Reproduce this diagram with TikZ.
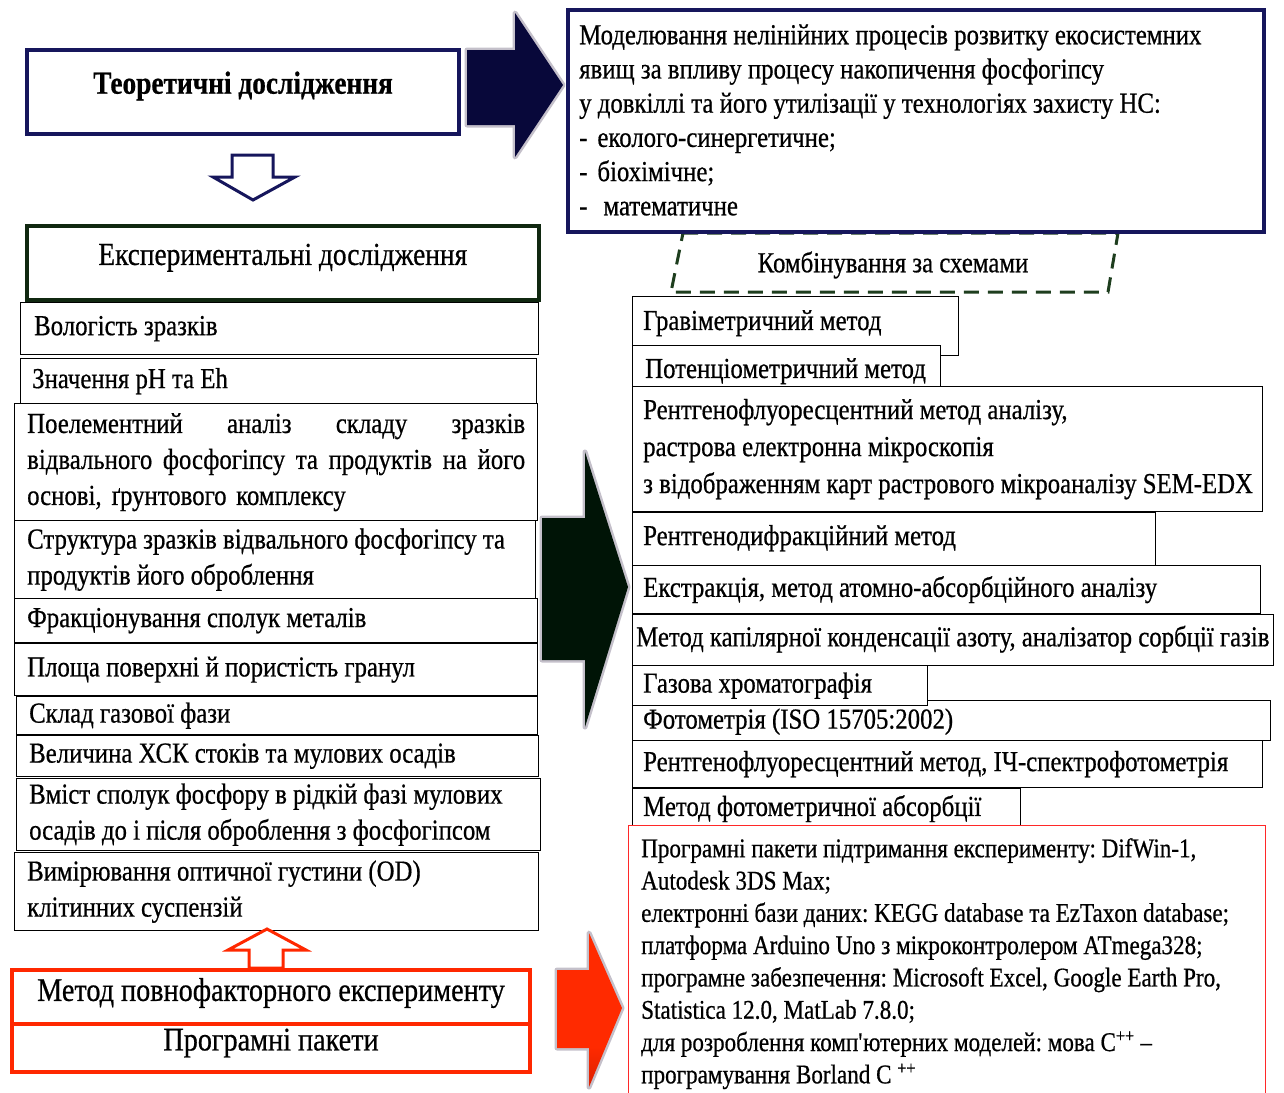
\documentclass[tikz,border=0pt]{standalone}
\usepackage{fontspec}
\setmainfont{Liberation Serif}[FakeStretch=0.855, FakeBold=0.6]
\usetikzlibrary{calc}
\definecolor{navy}{RGB}{22,22,92}
\definecolor{navyfill}{RGB}{8,8,58}
\definecolor{darkgreen}{RGB}{16,40,16}
\definecolor{dashgreen}{RGB}{30,62,30}
\definecolor{nearblack}{RGB}{0,20,6}
\definecolor{redline}{RGB}{255,40,0}
\definecolor{redthin}{RGB}{255,40,40}
\definecolor{redtop}{RGB}{255,42,0}
\definecolor{redbottom}{RGB}{150,10,0}
\definecolor{halo}{RGB}{60,45,80}
\pgfdeclareverticalshading{redarrowshade}{100bp}{color(0bp)=(redbottom); color(38bp)=(redtop); color(100bp)=(redtop)}
\newcommand\fsA{\fontsize{29}{36}\selectfont}
\newcommand\fsB{\fontsize{29}{37}\selectfont}
\newcommand\fsM{\fontsize{29}{34.2}\selectfont}
\newcommand\fsP{\fontsize{27}{32.3}\selectfont}
\newcommand\fsT{\fontsize{32}{38}\selectfont}
\begin{document}
\frenchspacing
\begin{tikzpicture}[x=1pt,y=-1pt,
  cell/.style={draw=black, line width=1.3pt, fill=white, anchor=north west, inner sep=0pt},
  lbl/.style={anchor=west, inner sep=0pt, align=left, font=\fsA},
  rlbl/.style={lbl, font=\fsB},
  redcell/.style={draw=redline, line width=4pt, fill=white, anchor=north west, inner sep=0pt},
  title/.style={inner sep=0pt, font=\fsT},
  glow/.style={draw=halo, line width=5pt, opacity=0.3, line join=round}
]
\useasboundingbox (0,0) rectangle (1284,1092);

% ---------- theory ----------
\node[draw=navy, line width=4pt, fill=white, anchor=north west, minimum width=432pt,
  minimum height=84pt] (teor) at (25,48) {};
\node[title, font=\fsT\bfseries] (teort) at ([yshift=6pt]teor.center) {Теоретичні дослідження};

% hollow arrow down
\draw[navy, line width=3pt, line join=miter, fill=white]
  (232,155) -- (273,155) -- (273,177) -- (295,177) -- (253,200) -- (213,177) -- (232,177) -- cycle;

\node[draw=darkgreen, line width=3.5pt, fill=white, anchor=north west, minimum width=512pt,
  minimum height=74pt] (exper) at (25,224) {};
\node[title] (expert) at ([yshift=5pt]exper.center) {Експериментальні дослідження};

% ---------- experimental parameters ----------
\node[cell, minimum width=518pt, minimum height=52pt] (vol) at (20,302) {};
\node[lbl] (volt) at ([xshift=14pt]vol.west) {Вологість зразків};
\node[cell, minimum width=516pt, minimum height=45pt] (ph) at (20,358) {};
\node[lbl] (pht) at ([xshift=12pt]ph.west) {Значення pH та Eh};
\node[cell, minimum width=523pt, minimum height=117pt] (elem) at (14,403) {};
\node[lbl, text width=498pt] (elemt) at ([xshift=13pt]elem.west)
  {Поелементний \hfill аналіз \hfill складу \hfill зразків\\
   відвального \hfill фосфогіпсу \hfill та \hfill продуктів \hfill на \hfill його\\
   \mbox{основі, ґрунтового комплексу}};
\node[cell, minimum width=521pt, minimum height=78pt] (struct) at (14,520) {};
\node[lbl] (structt) at ([xshift=13pt]struct.west)
  {Структура зразків відвального фосфогіпсу та\\ продуктів його оброблення};
\node[cell, minimum width=523pt, minimum height=44pt] (frac) at (14,598) {};
\node[lbl] (fract) at ([xshift=13pt]frac.west) {Фракціонування сполук металів};
\node[cell, minimum width=523pt, minimum height=52pt] (area) at (14,643) {};
\node[lbl] (areat) at ([xshift=13pt]area.west) {Площа поверхні й пористість гранул};
\node[cell, minimum width=521pt, minimum height=38pt] (gasph) at (16,696) {};
\node[lbl] (gaspht) at ([xshift=13pt]gasph.west) {Склад газової фази};
\node[cell, minimum width=522pt, minimum height=41pt] (xsk) at (16,735) {};
\node[lbl] (xskt) at ([xshift=13pt]xsk.west) {Величина ХСК стоків та мулових осадів};
\node[cell, minimum width=524pt, minimum height=72pt] (phos) at (16,778) {};
\node[lbl] (phost) at ([xshift=13pt]phos.west)
  {Вміст сполук фосфору в рідкій фазі мулових\\ осадів до і після оброблення з фосфогіпсом};
\node[cell, minimum width=524pt, minimum height=78pt] (od) at (14,852) {};
\node[lbl] (odt) at ([xshift=13pt]od.west)
  {Вимірювання оптичної густини (OD)\\ клітинних суспензій};

% hollow arrow up
\draw[redline, line width=3pt, line join=miter, fill=white]
  (267,929) -- (306,950) -- (283,950) -- (283,968) -- (249,968) -- (249,950) -- (228,950) -- cycle;

% ---------- methods of experiment ----------
\node[redcell, minimum width=518pt, minimum height=54pt] (full) at (10,968) {};
\node[title, font=\fontsize{33}{38}\selectfont] (fullt) at ([yshift=4pt]full.center) {Метод повнофакторного експерименту};
\node[redcell, minimum width=518pt, minimum height=48pt] (pack) at (10,1022) {};
\node[title, font=\fontsize{33}{38}\selectfont] (packt) at ([yshift=5pt]pack.center) {Програмні пакети};

% ---------- big arrows ----------
\draw[glow] (467,50) -- (515,50) -- (515,13) -- (563,85) -- (515,157) -- (515,125) -- (467,125) -- cycle;
\fill[navyfill] (467,50) -- (515,50) -- (515,13) -- (563,85) -- (515,157) -- (515,125) -- (467,125) -- cycle;

\draw[glow] (542,518) -- (585,518) -- (585,452) -- (628,587) -- (585,727) -- (585,660) -- (542,660) -- cycle;
\fill[nearblack] (542,518) -- (585,518) -- (585,452) -- (628,587) -- (585,727) -- (585,660) -- (542,660) -- cycle;

\draw[glow] (557,970) -- (589,970) -- (589,933) -- (622,1008) -- (589,1087) -- (589,1048) -- (557,1048) -- cycle;
\shade[shading=redarrowshade]
  (557,970) -- (589,970) -- (589,933) -- (622,1008) -- (589,1087) -- (589,1048) -- (557,1048) -- cycle;

% ---------- combination scheme ----------
\node[font=\fontsize{29}{32}\selectfont] (komb) at (893,265) {Комбінування за схемами};
\draw[dashgreen, line width=3pt, dash pattern=on 15pt off 9pt]
  (683,233) -- (1118,233) -- (1108,292) -- (671,292) -- cycle;

% ---------- modelling ----------
\node[draw=navy, line width=4pt, fill=white, anchor=north west, minimum width=696pt,
  minimum height=222pt] (model) at (566,8) {};
\node[lbl, font=\fsM] (modelt) at ([xshift=13pt,yshift=1pt]model.west)
  {Моделювання нелінійних процесів розвитку екосистемних\\
   явищ за впливу процесу накопичення фосфогіпсу\\
   у довкіллі та його утилізації у технологіях захисту НС:\\
   -\hspace{10pt}еколого-синергетичне;\\
   -\hspace{10pt}біохімічне;\\
   -\hspace{16pt}математичне};

% ---------- methods ----------
\node[cell, minimum width=326pt, minimum height=59pt] (grav) at (632,296) {};
\node[rlbl] (gravt) at ([xshift=11pt,yshift=3pt]grav.west) {Гравіметричний метод};
\node[cell, minimum width=308pt, minimum height=41pt] (pot) at (632,345) {};
\node[rlbl] (pott) at ([xshift=13pt,yshift=-5pt]pot.west) {Потенціометричний метод};
\node[cell, minimum width=630pt, minimum height=125pt] (rfa) at (632,386) {};
\node[rlbl] (rfat) at ([xshift=11pt]rfa.west)
  {Рентгенофлуоресцентний метод аналізу,\\ растрова електронна мікроскопія\\
   з відображенням карт растрового мікроаналізу SEM-EDX};
\node[cell, minimum width=523pt, minimum height=53pt] (rdf) at (632,512) {};
\node[rlbl] (rdft) at ([xshift=11pt,yshift=1pt]rdf.west) {Рентгенодифракційний метод};
\node[cell, minimum width=628pt, minimum height=48pt] (ext) at (632,565) {};
\node[rlbl] (extt) at ([xshift=11pt]ext.west) {Екстракція, метод атомно-абсорбційного аналізу};
\node[cell, minimum width=641pt, minimum height=51pt] (kap) at (632,614) {};
\node[rlbl] (kapt) at ([xshift=4pt,yshift=1pt]kap.west) {Метод капілярної конденсації азоту, аналізатор сорбції газів};
\node[cell, minimum width=638pt, minimum height=40pt] (foto) at (632,700) {};
\node[rlbl] (fotot) at ([xshift=11pt,yshift=-1pt]foto.west) {Фотометрія (ISO 15705:2002)};
\node[cell, minimum width=295pt, minimum height=40pt] (gaz) at (632,665) {};
\node[rlbl] (gazt) at ([xshift=11pt]gaz.west) {Газова хроматографія};
\node[cell, minimum width=630pt, minimum height=47pt] (ir) at (632,740) {};
\node[rlbl] (irt) at ([xshift=11pt]ir.west) {Рентгенофлуоресцентний метод, ІЧ-спектрофотометрія};
\node[cell, minimum width=388pt, minimum height=40pt] (absorb) at (632,788) {};
\node[rlbl] (absorbt) at ([xshift=11pt]absorb.west) {Метод фотометричної абсорбції};

% ---------- software ----------
\node[draw=redthin, line width=1.2pt, fill=white, anchor=north west, minimum width=637pt,
  minimum height=275pt, inner sep=0pt] (prog) at (628,825) {};
\node[anchor=north west, inner sep=0pt, align=left, font=\fsP] (progt) at ([xshift=13pt,yshift=-13pt]prog.north west)
  {Програмні пакети підтримання експерименту: DifWin-1,\\
   Autodesk 3DS Max;\\
   електронні бази даних: KEGG database та EzTaxon database;\\
   платформа Arduino Uno з мікроконтролером ATmega328;\\
   програмне забезпечення: Microsoft Excel, Google Earth Pro,\\
   Statistica 12.0, MatLab 7.8.0;\\
   для розроблення комп\textquotesingle ютерних моделей: мова C\textsuperscript{++} –\\
   програмування Borland C \textsuperscript{++}};
\end{tikzpicture}
\end{document}
